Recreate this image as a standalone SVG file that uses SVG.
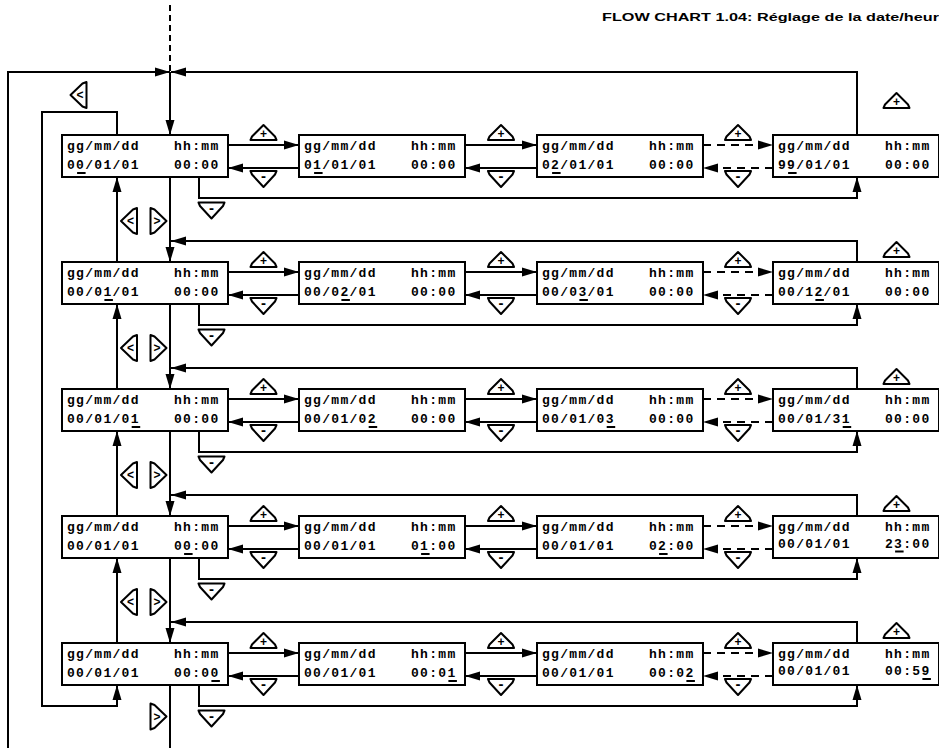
<svg xmlns="http://www.w3.org/2000/svg" xmlns:xlink="http://www.w3.org/1999/xlink" width="939" height="748" viewBox="0 0 939 748">
<style>
.bx{fill:#fff;stroke:#000;stroke-width:2}
.ln{fill:none;stroke:#000;stroke-width:2}
.da{stroke-dasharray:8 6}
.dv{stroke-dasharray:6 4}
.t{font-family:"Liberation Mono","Courier New",monospace;font-weight:bold;font-size:13px;letter-spacing:1.3px;fill:#000}
.ic{fill:#fff;stroke:#000;stroke-width:2;stroke-linejoin:round}
.it{font-family:"Liberation Sans",Arial,sans-serif;font-weight:bold;font-size:12px;text-anchor:middle;fill:#000}
.im{font-family:"Liberation Sans",Arial,sans-serif;font-weight:bold;font-size:15px;text-anchor:middle;fill:#000}
.ia{font-family:"Liberation Sans",Arial,sans-serif;font-weight:bold;font-size:12px;text-anchor:middle;fill:#000}
.ul{fill:#000}
.ti{font-family:"Liberation Sans",Arial,sans-serif;font-weight:bold;font-size:11px;fill:#000}
</style>
<defs>
<marker id="ah" markerUnits="userSpaceOnUse" markerWidth="16" markerHeight="10" refX="15" refY="5" orient="auto"><path d="M0,0.5 L15,5 L0,9.5 z" fill="#000" stroke="none"/></marker>
<polygon id="pl" points="0,-7.5 11.5,4 13,7.5 -13,7.5 -11.5,4"/>
<polygon id="mi" points="-13,-7.5 13,-7.5 11.5,-4 0,8.5 -11.5,-4"/>
<polygon id="lt" points="-8,0 4,-11.5 8,-13 8,13 4,11.5"/>
<polygon id="gt" points="8,0 -4,-11.5 -8,-13 -8,13 -4,11.5"/>
</defs>
<rect width="939" height="748" fill="#fff"/>
<text class="ti" x="602" y="21" textLength="346" lengthAdjust="spacingAndGlyphs">FLOW CHART 1.04: Réglage de la date/heure</text>

<g id="connectors">
<path class="ln dv" d="M170,5 V72"/>
<path class="ln" d="M8,748 V72 H170" marker-end="url(#ah)"/>
<path class="ln" d="M857,135 V72 H171" marker-end="url(#ah)"/>
<path class="ln" d="M170,72 V135" marker-end="url(#ah)"/>
<path class="ln" d="M117,135 V112 H42 V706 H117 V685" marker-end="url(#ah)"/>
<path class="ln" d="M170,685 V748"/>
<!-- row 1 -->
<path class="ln" d="M228,145 H299" marker-end="url(#ah)"/>
<path class="ln" d="M465,145 H537" marker-end="url(#ah)"/>
<path class="ln da" d="M703,145 H773" marker-end="url(#ah)"/>
<path class="ln" d="M299,168 H228" marker-end="url(#ah)"/>
<path class="ln" d="M537,168 H465" marker-end="url(#ah)"/>
<path class="ln da" d="M773,168 H703" marker-end="url(#ah)"/>
<path class="ln" d="M199,177 V198 H857 V177" marker-end="url(#ah)"/>
<path class="ln" d="M117,262 V177" marker-end="url(#ah)"/>
<path class="ln" d="M170,177 V262" marker-end="url(#ah)"/>
<!-- row 2 -->
<path class="ln" d="M857,262 V241 H171" marker-end="url(#ah)"/>
<path class="ln" d="M228,272 H299" marker-end="url(#ah)"/>
<path class="ln" d="M465,272 H537" marker-end="url(#ah)"/>
<path class="ln da" d="M703,272 H773" marker-end="url(#ah)"/>
<path class="ln" d="M299,295 H228" marker-end="url(#ah)"/>
<path class="ln" d="M537,295 H465" marker-end="url(#ah)"/>
<path class="ln da" d="M773,295 H703" marker-end="url(#ah)"/>
<path class="ln" d="M199,304 V325 H857 V304" marker-end="url(#ah)"/>
<path class="ln" d="M117,389 V304" marker-end="url(#ah)"/>
<path class="ln" d="M170,304 V389" marker-end="url(#ah)"/>
<!-- row 3 -->
<path class="ln" d="M857,389 V368 H171" marker-end="url(#ah)"/>
<path class="ln" d="M228,399 H299" marker-end="url(#ah)"/>
<path class="ln" d="M465,399 H537" marker-end="url(#ah)"/>
<path class="ln da" d="M703,399 H773" marker-end="url(#ah)"/>
<path class="ln" d="M299,422 H228" marker-end="url(#ah)"/>
<path class="ln" d="M537,422 H465" marker-end="url(#ah)"/>
<path class="ln da" d="M773,422 H703" marker-end="url(#ah)"/>
<path class="ln" d="M199,431 V452 H857 V431" marker-end="url(#ah)"/>
<path class="ln" d="M117,516 V431" marker-end="url(#ah)"/>
<path class="ln" d="M170,431 V516" marker-end="url(#ah)"/>
<!-- row 4 -->
<path class="ln" d="M857,516 V495 H171" marker-end="url(#ah)"/>
<path class="ln" d="M228,526 H299" marker-end="url(#ah)"/>
<path class="ln" d="M465,526 H537" marker-end="url(#ah)"/>
<path class="ln da" d="M703,526 H773" marker-end="url(#ah)"/>
<path class="ln" d="M299,549 H228" marker-end="url(#ah)"/>
<path class="ln" d="M537,549 H465" marker-end="url(#ah)"/>
<path class="ln da" d="M773,549 H703" marker-end="url(#ah)"/>
<path class="ln" d="M199,558 V579 H857 V558" marker-end="url(#ah)"/>
<path class="ln" d="M117,643 V558" marker-end="url(#ah)"/>
<path class="ln" d="M170,558 V643" marker-end="url(#ah)"/>
<!-- row 5 -->
<path class="ln" d="M857,643 V622 H171" marker-end="url(#ah)"/>
<path class="ln" d="M228,653 H299" marker-end="url(#ah)"/>
<path class="ln" d="M465,653 H537" marker-end="url(#ah)"/>
<path class="ln da" d="M703,653 H773" marker-end="url(#ah)"/>
<path class="ln" d="M299,676 H228" marker-end="url(#ah)"/>
<path class="ln" d="M537,676 H465" marker-end="url(#ah)"/>
<path class="ln da" d="M773,676 H703" marker-end="url(#ah)"/>
<path class="ln" d="M199,685 V706 H857 V685" marker-end="url(#ah)"/>
</g>

<g id="buttons">
<use xlink:href="#lt" class="ic" x="78.5" y="95"/><text class="ia" x="80" y="99">&lt;</text>
<use xlink:href="#gt" class="ic" x="158.5" y="716.5"/><text class="ia" x="157" y="720.5">&gt;</text>
<!-- row 1 -->
<use xlink:href="#pl" class="ic" x="263.5" y="132.5"/><text class="it" x="263.5" y="138">+</text>
<use xlink:href="#pl" class="ic" x="501" y="132.5"/><text class="it" x="501" y="138">+</text>
<use xlink:href="#pl" class="ic" x="738" y="132.5"/><text class="it" x="738" y="138">+</text>
<use xlink:href="#mi" class="ic" x="263.5" y="178.5"/><text class="im" x="263.5" y="181">-</text>
<use xlink:href="#mi" class="ic" x="501" y="178.5"/><text class="im" x="501" y="181">-</text>
<use xlink:href="#mi" class="ic" x="738" y="178.5"/><text class="im" x="738" y="181">-</text>
<use xlink:href="#mi" class="ic" x="211.5" y="210"/><text class="im" x="211.5" y="212.5">-</text>
<use xlink:href="#pl" class="ic" x="896.5" y="100.5"/><text class="it" x="896.5" y="106">+</text>
<use xlink:href="#lt" class="ic" x="129" y="221"/><text class="ia" x="130.5" y="225">&lt;</text>
<use xlink:href="#gt" class="ic" x="158.5" y="221"/><text class="ia" x="157" y="225">&gt;</text>
<!-- row 2 -->
<use xlink:href="#pl" class="ic" x="263.5" y="259.5"/><text class="it" x="263.5" y="265">+</text>
<use xlink:href="#pl" class="ic" x="501" y="259.5"/><text class="it" x="501" y="265">+</text>
<use xlink:href="#pl" class="ic" x="738" y="259.5"/><text class="it" x="738" y="265">+</text>
<use xlink:href="#mi" class="ic" x="263.5" y="305.5"/><text class="im" x="263.5" y="308">-</text>
<use xlink:href="#mi" class="ic" x="501" y="305.5"/><text class="im" x="501" y="308">-</text>
<use xlink:href="#mi" class="ic" x="738" y="305.5"/><text class="im" x="738" y="308">-</text>
<use xlink:href="#mi" class="ic" x="211.5" y="337"/><text class="im" x="211.5" y="339.5">-</text>
<use xlink:href="#pl" class="ic" x="896.5" y="249.5"/><text class="it" x="896.5" y="255">+</text>
<use xlink:href="#lt" class="ic" x="129" y="348"/><text class="ia" x="130.5" y="352">&lt;</text>
<use xlink:href="#gt" class="ic" x="158.5" y="348"/><text class="ia" x="157" y="352">&gt;</text>
<!-- row 3 -->
<use xlink:href="#pl" class="ic" x="263.5" y="386.5"/><text class="it" x="263.5" y="392">+</text>
<use xlink:href="#pl" class="ic" x="501" y="386.5"/><text class="it" x="501" y="392">+</text>
<use xlink:href="#pl" class="ic" x="738" y="386.5"/><text class="it" x="738" y="392">+</text>
<use xlink:href="#mi" class="ic" x="263.5" y="432.5"/><text class="im" x="263.5" y="435">-</text>
<use xlink:href="#mi" class="ic" x="501" y="432.5"/><text class="im" x="501" y="435">-</text>
<use xlink:href="#mi" class="ic" x="738" y="432.5"/><text class="im" x="738" y="435">-</text>
<use xlink:href="#mi" class="ic" x="211.5" y="464"/><text class="im" x="211.5" y="466.5">-</text>
<use xlink:href="#pl" class="ic" x="896.5" y="376.5"/><text class="it" x="896.5" y="382">+</text>
<use xlink:href="#lt" class="ic" x="129" y="475"/><text class="ia" x="130.5" y="479">&lt;</text>
<use xlink:href="#gt" class="ic" x="158.5" y="475"/><text class="ia" x="157" y="479">&gt;</text>
<!-- row 4 -->
<use xlink:href="#pl" class="ic" x="263.5" y="513.5"/><text class="it" x="263.5" y="519">+</text>
<use xlink:href="#pl" class="ic" x="501" y="513.5"/><text class="it" x="501" y="519">+</text>
<use xlink:href="#pl" class="ic" x="738" y="513.5"/><text class="it" x="738" y="519">+</text>
<use xlink:href="#mi" class="ic" x="263.5" y="559.5"/><text class="im" x="263.5" y="562">-</text>
<use xlink:href="#mi" class="ic" x="501" y="559.5"/><text class="im" x="501" y="562">-</text>
<use xlink:href="#mi" class="ic" x="738" y="559.5"/><text class="im" x="738" y="562">-</text>
<use xlink:href="#mi" class="ic" x="211.5" y="591"/><text class="im" x="211.5" y="593.5">-</text>
<use xlink:href="#pl" class="ic" x="896.5" y="503.5"/><text class="it" x="896.5" y="509">+</text>
<use xlink:href="#lt" class="ic" x="129" y="602"/><text class="ia" x="130.5" y="606">&lt;</text>
<use xlink:href="#gt" class="ic" x="158.5" y="602"/><text class="ia" x="157" y="606">&gt;</text>
<!-- row 5 -->
<use xlink:href="#pl" class="ic" x="263.5" y="640.5"/><text class="it" x="263.5" y="646">+</text>
<use xlink:href="#pl" class="ic" x="501" y="640.5"/><text class="it" x="501" y="646">+</text>
<use xlink:href="#pl" class="ic" x="738" y="640.5"/><text class="it" x="738" y="646">+</text>
<use xlink:href="#mi" class="ic" x="263.5" y="686.5"/><text class="im" x="263.5" y="689">-</text>
<use xlink:href="#mi" class="ic" x="501" y="686.5"/><text class="im" x="501" y="689">-</text>
<use xlink:href="#mi" class="ic" x="738" y="686.5"/><text class="im" x="738" y="689">-</text>
<use xlink:href="#mi" class="ic" x="211.5" y="718"/><text class="im" x="211.5" y="720.5">-</text>
<use xlink:href="#pl" class="ic" x="896.5" y="630.5"/><text class="it" x="896.5" y="636">+</text>
</g>

<!-- row 1 nodes -->
<g id="n1_1"><rect class="bx" x="62" y="135" width="166" height="42"/><text class="t" x="67" y="150">gg/mm/dd</text><text class="t" x="174" y="150">hh:mm</text><text class="t" x="67" y="169">00/01/01</text><text class="t" x="174" y="169">00:00</text><rect class="ul" x="77.1" y="172" width="8.5" height="2"/></g>
<g id="n1_2"><rect class="bx" x="299" y="135" width="166" height="42"/><text class="t" x="304" y="150">gg/mm/dd</text><text class="t" x="411" y="150">hh:mm</text><text class="t" x="304" y="169">01/01/01</text><text class="t" x="411" y="169">00:00</text><rect class="ul" x="314.1" y="172" width="8.5" height="2"/></g>
<g id="n1_3"><rect class="bx" x="537" y="135" width="166" height="42"/><text class="t" x="542" y="150">gg/mm/dd</text><text class="t" x="649" y="150">hh:mm</text><text class="t" x="542" y="169">02/01/01</text><text class="t" x="649" y="169">00:00</text><rect class="ul" x="552.1" y="172" width="8.5" height="2"/></g>
<g id="n1_4"><rect class="bx" x="773" y="135" width="166" height="42"/><text class="t" x="778" y="150">gg/mm/dd</text><text class="t" x="885" y="150">hh:mm</text><text class="t" x="778" y="169">99/01/01</text><text class="t" x="885" y="169">00:00</text><rect class="ul" x="788.1" y="172" width="8.5" height="2"/></g>
<!-- row 2 nodes -->
<g id="n2_1"><rect class="bx" x="62" y="262" width="166" height="42"/><text class="t" x="67" y="277">gg/mm/dd</text><text class="t" x="174" y="277">hh:mm</text><text class="t" x="67" y="296">00/01/01</text><text class="t" x="174" y="296">00:00</text><rect class="ul" x="104.4" y="299" width="8.5" height="2"/></g>
<g id="n2_2"><rect class="bx" x="299" y="262" width="166" height="42"/><text class="t" x="304" y="277">gg/mm/dd</text><text class="t" x="411" y="277">hh:mm</text><text class="t" x="304" y="296">00/02/01</text><text class="t" x="411" y="296">00:00</text><rect class="ul" x="341.4" y="299" width="8.5" height="2"/></g>
<g id="n2_3"><rect class="bx" x="537" y="262" width="166" height="42"/><text class="t" x="542" y="277">gg/mm/dd</text><text class="t" x="649" y="277">hh:mm</text><text class="t" x="542" y="296">00/03/01</text><text class="t" x="649" y="296">00:00</text><rect class="ul" x="579.4" y="299" width="8.5" height="2"/></g>
<g id="n2_4"><rect class="bx" x="773" y="262" width="166" height="42"/><text class="t" x="778" y="277">gg/mm/dd</text><text class="t" x="885" y="277">hh:mm</text><text class="t" x="778" y="296">00/12/01</text><text class="t" x="885" y="296">00:00</text><rect class="ul" x="815.4" y="299" width="8.5" height="2"/></g>
<!-- row 3 nodes -->
<g id="n3_1"><rect class="bx" x="62" y="389" width="166" height="42"/><text class="t" x="67" y="404">gg/mm/dd</text><text class="t" x="174" y="404">hh:mm</text><text class="t" x="67" y="423">00/01/01</text><text class="t" x="174" y="423">00:00</text><rect class="ul" x="131.7" y="426" width="8.5" height="2"/></g>
<g id="n3_2"><rect class="bx" x="299" y="389" width="166" height="42"/><text class="t" x="304" y="404">gg/mm/dd</text><text class="t" x="411" y="404">hh:mm</text><text class="t" x="304" y="423">00/01/02</text><text class="t" x="411" y="423">00:00</text><rect class="ul" x="368.7" y="426" width="8.5" height="2"/></g>
<g id="n3_3"><rect class="bx" x="537" y="389" width="166" height="42"/><text class="t" x="542" y="404">gg/mm/dd</text><text class="t" x="649" y="404">hh:mm</text><text class="t" x="542" y="423">00/01/03</text><text class="t" x="649" y="423">00:00</text><rect class="ul" x="606.7" y="426" width="8.5" height="2"/></g>
<g id="n3_4"><rect class="bx" x="773" y="389" width="166" height="42"/><text class="t" x="778" y="404">gg/mm/dd</text><text class="t" x="885" y="404">hh:mm</text><text class="t" x="778" y="423">00/01/31</text><text class="t" x="885" y="423">00:00</text><rect class="ul" x="842.7" y="426" width="8.5" height="2"/></g>
<!-- row 4 nodes -->
<g id="n4_1"><rect class="bx" x="62" y="516" width="166" height="42"/><text class="t" x="67" y="531">gg/mm/dd</text><text class="t" x="174" y="531">hh:mm</text><text class="t" x="67" y="550">00/01/01</text><text class="t" x="174" y="550">00:00</text><rect class="ul" x="184.1" y="553" width="8.5" height="2"/></g>
<g id="n4_2"><rect class="bx" x="299" y="516" width="166" height="42"/><text class="t" x="304" y="531">gg/mm/dd</text><text class="t" x="411" y="531">hh:mm</text><text class="t" x="304" y="550">00/01/01</text><text class="t" x="411" y="550">01:00</text><rect class="ul" x="421.1" y="553" width="8.5" height="2"/></g>
<g id="n4_3"><rect class="bx" x="537" y="516" width="166" height="42"/><text class="t" x="542" y="531">gg/mm/dd</text><text class="t" x="649" y="531">hh:mm</text><text class="t" x="542" y="550">00/01/01</text><text class="t" x="649" y="550">02:00</text><rect class="ul" x="659.1" y="553" width="8.5" height="2"/></g>
<g id="n4_4"><rect class="bx" x="773" y="516" width="166" height="42"/><text class="t" x="778" y="531">gg/mm/dd</text><text class="t" x="885" y="531">hh:mm</text><text class="t" x="778" y="547.5">00/01/01</text><text class="t" x="885" y="547.5">23:00</text><rect class="ul" x="895.1" y="550.5" width="8.5" height="2"/></g>
<!-- row 5 nodes -->
<g id="n5_1"><rect class="bx" x="62" y="643" width="166" height="42"/><text class="t" x="67" y="658">gg/mm/dd</text><text class="t" x="174" y="658">hh:mm</text><text class="t" x="67" y="677">00/01/01</text><text class="t" x="174" y="677">00:00</text><rect class="ul" x="211.4" y="680" width="8.5" height="2"/></g>
<g id="n5_2"><rect class="bx" x="299" y="643" width="166" height="42"/><text class="t" x="304" y="658">gg/mm/dd</text><text class="t" x="411" y="658">hh:mm</text><text class="t" x="304" y="677">00/01/01</text><text class="t" x="411" y="677">00:01</text><rect class="ul" x="448.4" y="680" width="8.5" height="2"/></g>
<g id="n5_3"><rect class="bx" x="537" y="643" width="166" height="42"/><text class="t" x="542" y="658">gg/mm/dd</text><text class="t" x="649" y="658">hh:mm</text><text class="t" x="542" y="677">00/01/01</text><text class="t" x="649" y="677">00:02</text><rect class="ul" x="686.4" y="680" width="8.5" height="2"/></g>
<g id="n5_4"><rect class="bx" x="773" y="643" width="166" height="42"/><text class="t" x="778" y="658">gg/mm/dd</text><text class="t" x="885" y="658">hh:mm</text><text class="t" x="778" y="675">00/01/01</text><text class="t" x="885" y="675">00:59</text><rect class="ul" x="922.4" y="678" width="8.5" height="2"/></g>
</svg>
